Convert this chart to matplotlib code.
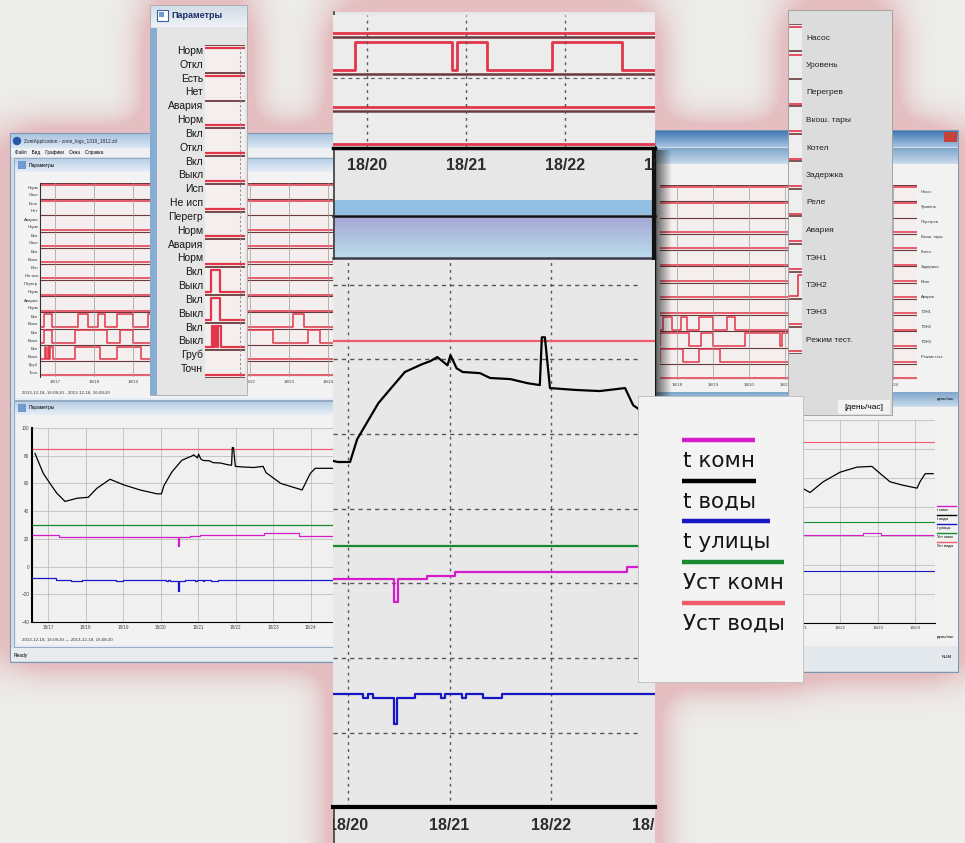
import numpy as np
import matplotlib
matplotlib.use("Agg")
import matplotlib.pyplot as plt
from matplotlib.colors import to_rgb
from matplotlib.patches import Rectangle, Circle
from matplotlib.transforms import offset_copy

plt.rcParams['font.family'] = ['Liberation Sans', 'DejaVu Sans']

W, H = 965, 843

# ---------------- data (18 Dec, hours -> deg C) ----------------
vody_hours = [16.65, 16.74, 16.87, 17.05, 17.23, 17.45, 17.77, 18.07, 18.3, 18.65,
              19.01, 19.45, 19.9, 20.02, 20.09, 20.3, 20.56, 20.73, 20.81, 20.88,
              20.98, 21.01, 21.07, 21.13, 21.3, 21.4, 21.6, 21.77, 21.89, 21.91,
              21.94, 21.99, 22.24, 22.48, 22.73, 22.81, 22.9, 23.2, 23.77, 23.99,
              24.12, 24.6]
t_vody = [81.7, 75.7, 67.3, 60.0, 53.0, 47.0, 49.3, 50.0, 56.5, 63.0,
          59.0, 55.3, 52.5, 52.5, 58.6, 68.3, 76.6, 78.7, 79.5, 80.6,
          78.4, 81.1, 77.6, 76.6, 76.3, 75.0, 74.7, 73.6, 73.1, 85.9,
          85.9, 72.3, 71.8, 71.5, 72.3, 67.7, 66.0, 60.0, 55.3, 67.3,
          70.9, 70.9]

komn_hours = [16.6, 17.3, 20.45, 20.49, 20.78, 21.05, 22.75, 23.7, 24.6]
t_komn = [22.8, 21.2, 15.0, 21.2, 22.0, 23.0, 24.4, 22.0, 22.0]

ulitsy_hours = [16.6, 17.2, 17.6, 17.9, 18.8, 19.0, 20.15, 20.2, 20.25, 20.45,
                20.48, 20.66, 20.92, 20.96, 21.12, 21.16, 21.33, 21.52, 24.6]
t_ulitsy = [-8.5, -9.6, -10.2, -9.6, -10.3, -9.6, -10.7, -9.6, -10.7, -17.7,
            -10.7, -9.6, -10.7, -9.6, -10.7, -9.6, -10.7, -9.6, -9.6]

ust_komn = 30.0
ust_vody = 85.0

# second window (other period)
rw_hours = [20.99, 21.2, 21.55, 22.0, 22.45, 22.85, 23.0, 23.33, 23.68, 24.05, 24.13, 24.27, 24.48]
rw_vody = [53.0, 50.0, 57.4, 64.0, 67.5, 68.0, 64.6, 57.4, 55.0, 53.0, 57.4, 63.0, 63.0]
rw_komn_hours = [20.99, 22.6, 23.1, 24.48]
rw_komn = [20.6, 22.0, 20.6, 20.6]
rw_ulitsy = -4.0

# discrete channels
sig_names = ['Насос', 'Уровень', 'Перегрев', 'Вкош. тары', 'Котел', 'Задержка',
             'Реле', 'Авария', 'ТЭН1', 'ТЭН2', 'ТЭН3', 'Режим тест.']
sig_states = ['Норм', 'Откл', 'Есть', 'Нет', 'Авария', 'Норм', 'Вкл', 'Откл',
              'Вкл', 'Выкл', 'Исп', 'Не исп', 'Перегр', 'Норм', 'Авария', 'Норм',
              'Вкл', 'Выкл', 'Вкл', 'Выкл', 'Вкл', 'Выкл', 'Груб', 'Точн']
sig_init = [1, 1, 0, 0, 0, 0, 0, 0, 0, 0, 0, 0]
sig_toggles = [[], [], [], [], [], [], [], [],
               [16.72, 16.92, 17.6, 17.85, 18.1, 18.29, 18.6, 19.0, 19.4, 19.6, 23.1, 23.4],
               [16.72, 16.92, 17.52, 18.34, 18.67, 19.0, 19.88, 20.86, 20.91, 21.21,
                21.87, 22.58, 23.5, 23.8],
               [16.75, 16.78, 16.82, 16.85, 16.88, 16.95, 17.52, 18.16, 18.6, 19.2],
               []]

legend_labels = ['t комн', 't воды', 't улицы', 'Уст комн', 'Уст воды']
C_KOMN, C_VODY, C_ULITSY, C_UKOMN, C_UVODY = '#d41ccb', '#000000', '#1616c4', '#17892f', '#f05c6c'
legend_colors = [C_KOMN, C_VODY, C_ULITSY, C_UKOMN, C_UVODY]

SIG_RED = '#e2364a'
SEP = '#6a3a3a'

fig = plt.figure(figsize=(W / 100, H / 100), dpi=100)


def px_rect(x0, y0, x1, y1):
    return [x0 / W, 1 - y1 / H, (x1 - x0) / W, (y1 - y0) / H]


def layer(z):
    ax = fig.add_axes([0, 0, 1, 1], zorder=z)
    ax.set_xlim(0, W)
    ax.set_ylim(H, 0)
    ax.axis('off')
    return ax


def box(ax, x0, y0, x1, y1, fc, ec='none', lw=0, z=1):
    r = Rectangle((x0, y0), x1 - x0, y1 - y0, facecolor=fc, edgecolor=ec, linewidth=lw, zorder=z)
    ax.add_patch(r)
    return r


def grad(ax, x0, y0, x1, y1, c0, c1):
    a, b = np.array(to_rgb(c0)), np.array(to_rgb(c1))
    t = np.linspace(0, 1, 64)[:, None]
    img = (a + (b - a) * t)[:, None, :]
    ax.imshow(img, extent=(x0, x1, y1, y0), aspect='auto', interpolation='bilinear', zorder=1.5)
    ax.set_xlim(0, W)
    ax.set_ylim(H, 0)


def sig_xy(init, toggles, t0, t1):
    xs = [t0] + list(toggles)
    ys = [(init + k) % 2 for k in range(len(xs))]
    xs.append(t1)
    ys.append(ys[-1])
    return xs, ys


def signal_axes(rect, z, xlim, ylim, rows, lw, sep_lw, fc='#f4eeee'):
    ax = fig.add_axes(px_rect(*rect), zorder=z)
    ax.set_facecolor(fc)
    for k in range(13):
        ax.axhline(k, color=SEP, lw=sep_lw)
    for i in rows:
        base = 11 - i
        xs, ys = sig_xy(sig_init[i], sig_toggles[i], xlim[0] - 1, xlim[1] + 1)
        ax.plot(xs, [base + (0.88 if s else 0.1) for s in ys], drawstyle='steps-post',
                color=SIG_RED, lw=lw)
    ax.set_xlim(xlim)
    ax.set_ylim(ylim)
    ax.set_yticks([])
    for s in ax.spines.values():
        s.set_visible(False)
    return ax


def analog(ax, lw):
    ax.axhline(ust_vody, color=C_UVODY, lw=lw)
    ax.axhline(ust_komn, color=C_UKOMN, lw=lw)
    ax.plot(komn_hours, t_komn, drawstyle='steps-post', color=C_KOMN, lw=lw)
    ax.plot(ulitsy_hours, t_ulitsy, drawstyle='steps-post', color=C_ULITSY, lw=lw)
    ax.plot(vody_hours, t_vody, color=C_VODY, lw=lw)


# ---------------- background with pink glow ----------------
def box_blur(a, r):
    for axis in (0, 1):
        pad = [(0, 0), (0, 0)]
        pad[axis] = (r + 1, r)
        c = np.cumsum(np.pad(a, pad, mode='edge'), axis=axis)
        n = a.shape[axis]
        a = (np.take(c, np.arange(2 * r + 1, 2 * r + 1 + n), axis=axis)
             - np.take(c, np.arange(0, n), axis=axis)) / (2 * r + 1)
    return a


mask = np.zeros((H, W))
for x0, y0, x1, y1 in [(10, 133, 340, 662), (150, 5, 247, 395), (333, 12, 655, 843),
                       (655, 130, 958, 672), (788, 10, 892, 415), (638, 396, 803, 682)]:
    mask[y0:y1, x0:x1] = 1.0
blur = mask
for _ in range(3):
    blur = box_blur(blur, 18)
g = np.clip(blur * 2.5, 0, 1)[..., None]
glow_img = np.array([237, 237, 235]) / 255 * (1 - g) + np.array([228, 190, 192]) / 255 * g

bg = fig.add_axes([0, 0, 1, 1], zorder=0)
bg.imshow(glow_img, extent=(0, W, H, 0), aspect='auto', interpolation='bilinear')
bg.set_xlim(0, W)
bg.set_ylim(H, 0)
bg.axis('off')

# ---------------- left application window ----------------
L = layer(1)
box(L, 10, 133, 340, 662, '#d3dde8', '#7d97b3', 0.8)
grad(L, 11, 134, 340, 148, '#a9c3de', '#dce8f4')
L.add_patch(Circle((17, 141), 3.5, color='#2a55a8', zorder=2))
L.text(24, 141, 'ZontApplication - zone_logs_1310_1812.ztl', fontsize=3.4, va='center', color='#223')
box(L, 11, 148, 340, 157, '#eef0f3')
L.text(15, 152.5, 'Файл    Вид    Графики    Окна    Справка', fontsize=3.3, va='center')
box(L, 14, 158, 340, 400, '#e4ebf2', '#8aa2bb', 0.6)
grad(L, 15, 159, 340, 171, '#b9cfe5', '#e3edf6')
box(L, 18, 161, 26, 169, '#6f9bd0', z=2)
L.text(29, 165, 'Параметры', fontsize=3.5, va='center')
box(L, 16, 172, 340, 398, '#f3f3f3')
row_h = (377 - 183) / 12
for k, s in enumerate(sig_states):
    L.text(38, 183 + (k // 2) * row_h + (4.5 if k % 2 == 0 else 12), s,
           fontsize=3.1, ha='right', va='center', color='#333')
L.text(22, 393, '2013-12-18, 16:08:20 - 2013-12-18, 16:08:20', fontsize=3.2, va='center', color='#333')
box(L, 14, 401, 340, 647, '#e4ebf2', '#8aa2bb', 0.6)
grad(L, 15, 402, 340, 414, '#b9cfe5', '#e3edf6')
box(L, 18, 404, 26, 412, '#6f9bd0', z=2)
L.text(29, 408, 'Параметры', fontsize=3.5, va='center')
box(L, 16, 415, 340, 645, '#f2f2f2')
L.text(22, 640, '2013-12-18, 16:08:20 — 2013-12-18, 16:08:20', fontsize=3.2, va='center', color='#333')
box(L, 11, 648, 340, 661, '#e9ecef')
L.text(14, 655, 'Ready', fontsize=3.5, va='center')

lu = signal_axes((40, 183, 340, 377), 1.5, (16.62, 24.31), (0, 12), range(12), 1.1, 0.8)
for h in range(17, 25):
    lu.axvline(h, color='#9a9a9a', lw=0.5)
lu.set_xticks(range(17, 25), [f'18/{h}' for h in range(17, 25)])
lu.tick_params(axis='x', labelsize=3.2, length=0, pad=2, labelcolor='#444')
lu.spines['left'].set_visible(True)
lu.spines['left'].set_color('#333')

ll = fig.add_axes(px_rect(32, 428, 340, 622), zorder=1.5)
ll.set_facecolor('#f0f0f0')
analog(ll, 0.9)
ll.set_xlim(16.57, 24.78)
ll.set_ylim(-40, 100)
ll.set_xticks(range(17, 25), [f'18/{h}' for h in range(17, 25)])
ll.set_yticks(range(-40, 101, 20))
ll.grid(True, color='#b4b4b4', lw=0.5)
ll.tick_params(labelsize=3.3, length=0, pad=2, labelcolor='#444')
ll.spines['top'].set_visible(False)
ll.spines['right'].set_visible(False)
ll.spines['left'].set_linewidth(1.5)

# ---------------- top-left "Параметры" panel ----------------
P = layer(2)
box(P, 150, 5, 247, 395, '#e5e5e5', '#a8a8a8', 0.6)
box(P, 150, 28, 157, 395, '#86acd2')
grad(P, 151, 6, 247, 27, '#d2dce8', '#eef2f6')
box(P, 157, 10, 168, 21, '#ffffff', '#3a62a0', 0.8, z=2)
box(P, 159, 12, 164, 17, '#6f9bd0', z=2)
P.text(171, 15.5, 'Параметры', fontsize=6.5, va='center', color='#1a2f66', fontweight='bold')
for k, s in enumerate(sig_states):
    P.text(203, 51 + k * 13.83, s, fontsize=7.5, ha='right', va='center', color='#151515')
tp = signal_axes((205, 45, 245, 378), 2.5, (16.6, 17.45), (0, 12), range(12), 1.6, 1.3)
tp.axvline(17.35, color='#909090', lw=0.8, ls=(0, (2, 2)))
tp.set_xticks([])

# ---------------- right application window ----------------
R = layer(3)
box(R, 655, 130, 958, 672, '#d3dde8', '#7d97b3', 0.8)
grad(R, 656, 131, 958, 147, '#3f79b5', '#a6c4e2')
box(R, 944, 132, 957, 142, '#c8413a', z=2)
grad(R, 656, 148, 958, 163, '#7ea6cc', '#c5d8ea')
box(R, 657, 164, 958, 392, '#f2f2f2')
for k, s in enumerate(sig_names):
    R.text(921, 192 + k * 15, s, fontsize=3.0, va='center', color='#333')
ru = signal_axes((660, 185, 917, 380), 3.5, (17.53, 24.67), (0, 12), range(12), 1.1, 0.8)
for h in range(18, 25):
    ru.axvline(h, color='#9a9a9a', lw=0.5)
ru.set_xticks(range(18, 25), [f'18/{h}' for h in range(18, 25)])
ru.tick_params(axis='x', labelsize=3.2, length=0, pad=2, labelcolor='#444')
grad(R, 656, 392, 958, 406, '#7ea6cc', '#c5d8ea')
R.text(954, 399, 'день/час', ha='right', va='center', fontsize=3.2)
box(R, 657, 407, 958, 660, '#f2f2f2')
rl = fig.add_axes(px_rect(660, 420, 935, 623), zorder=3.5)
rl.set_facecolor('#f0f0f0')
rl.axhline(ust_vody, color=C_UVODY, lw=0.8)
rl.axhline(ust_komn, color=C_UKOMN, lw=0.8)
rl.axhline(rw_ulitsy, color=C_ULITSY, lw=0.8)
rl.plot(rw_komn_hours, rw_komn, drawstyle='steps-post', color=C_KOMN, lw=0.8)
rl.plot(rw_hours, rw_vody, color=C_VODY, lw=0.9)
rl.set_xlim(17.2, 24.53)
rl.set_ylim(-40, 100)
rl.set_xticks(range(21, 25), [f'18/{h}' for h in range(21, 25)])
rl.set_yticks(range(-40, 101, 20), [])
rl.grid(True, color='#b4b4b4', lw=0.5)
rl.tick_params(labelsize=3.2, length=0, pad=2, labelcolor='#444')
rl.spines['top'].set_visible(False)
rl.spines['right'].set_visible(False)
for k, (lab, col) in enumerate(zip(legend_labels, legend_colors)):
    R.plot([937, 956], [506 + k * 9, 506 + k * 9], color=col, lw=1.0)
    R.text(937, 510 + k * 9, lab, fontsize=2.8, va='center')
R.text(954, 637, 'день/час', ha='right', va='center', fontsize=3.2)
box(R, 656, 646, 958, 671, '#e4e9ee')
R.text(952, 657, 'NUM', ha='right', va='center', fontsize=3.2)

# ---------------- top-right channel list ----------------
T = layer(4)
box(T, 788, 10, 892, 415, '#dcdcdc', '#9a9a9a', 0.6)
ts = signal_axes((789, 24, 802, 354), 4.5, (21.6, 22.0), (0, 12), range(12), 1.2, 1.2, fc='#eeeeee')
ts.set_xticks([])
for k, s in enumerate(sig_names):
    T.text(806, 38 + k * 27.5, s, fontsize=6, va='center', color='#202020')
box(T, 838, 400, 890, 414, '#f2f2f2')
T.text(864, 407.5, '[день/час]', ha='center', va='center', fontsize=6)

# ---------------- central zoomed panel ----------------
C = layer(5)
box(C, 333, 12, 655, 843, '#e7e7e7')
panel_clip = Rectangle((333 / W, 0), (655 - 333) / W, 1, transform=fig.transFigure)

cu = signal_axes((333, 15, 655, 148), 5.5, (19.657, 22.91), (0, 3.6), [8, 9, 10, 11], 2.0, 1.8,
                 fc='#ececec')
for h in [20, 21, 22]:
    cu.axvline(h, color='#555555', lw=1.0, ls=(0, (2, 3)))
cu.axhline(1.9, color='#666666', lw=0.9, ls=(0, (3, 3)))
cu.set_xticks([])
cu.spines['bottom'].set_visible(True)
cu.spines['bottom'].set_linewidth(2.5)
for h in [20, 21, 22, 23]:
    t = cu.text(h, 0, f'18/{h}', ha='center', va='center', fontsize=11.5, fontweight='bold',
                color='#2c2c2c', clip_on=True,
                transform=offset_copy(cu.get_xaxis_transform(), fig=fig, y=-18, units='dots'))
    t.set_clip_path(panel_clip)

box(C, 333, 200, 655, 215, '#92bfe2')
C.plot([333, 655], [215.5, 215.5], color='#111111', lw=1.8)
grad(C, 333, 217, 655, 257, '#a5a8d4', '#badcec')
C.plot([333, 655], [258, 258], color='#3b3b4b', lw=1.8)

cl = fig.add_axes(px_rect(333, 260, 655, 807), zorder=5.5)
cl.set_facecolor('#e8e8e8')
for v in range(-20, 101, 20):
    cl.hlines(v, 19.852, 22.88, color='#555555', lw=1.0, linestyles=[(0, (3, 3))])
for h in [20, 21, 22]:
    cl.axvline(h, color='#555555', lw=1.0, ls=(0, (2, 3)))
analog(cl, 1.6)
cl.set_xlim(19.852, 23.025)
cl.set_ylim(-39.9, 106.6)
cl.set_xticks([])
cl.set_yticks([])
for s in ['top', 'left', 'right']:
    cl.spines[s].set_visible(False)
cl.spines['bottom'].set_linewidth(3)
for h in [20, 21, 22, 23]:
    t = cl.text(h, 0, f'18/{h}', ha='center', va='center', fontsize=11.5, fontweight='bold',
                color='#2c2c2c', clip_on=True,
                transform=offset_copy(cl.get_xaxis_transform(), fig=fig, y=-18, units='dots'))
    t.set_clip_path(panel_clip)

C.plot([333.5, 333.5], [12, 843], color='#3a3a3a', lw=1.2)
C.plot([654, 654], [148, 398], color='#111111', lw=3)
shade = np.zeros((1, 32, 4))
shade[..., :3] = 0.1
shade[0, :, 3] = np.linspace(0.7, 0.0, 32)
C.imshow(shade, extent=(655, 672, 398, 150), aspect='auto', zorder=1.5)
C.set_xlim(0, W)
C.set_ylim(H, 0)

# ---------------- legend box ----------------
G = layer(6)
box(G, 638, 396, 803, 682, '#f3f3f3', '#bdbdbd', 0.6)
renderer = fig.canvas.get_renderer()
for k, (lab, col) in enumerate(zip(legend_labels, legend_colors)):
    y_line = 440 + k * 40.7
    t = G.text(683, y_line + 21, lab, fontsize=15.5, va='center', color='#151515',
               family=['DejaVu Sans'])
    w = t.get_window_extent(renderer=renderer).width
    G.plot([682, 683 + w], [y_line, y_line], color=col, lw=3.2, solid_capstyle='butt')

fig.savefig('out.png', dpi=100)
